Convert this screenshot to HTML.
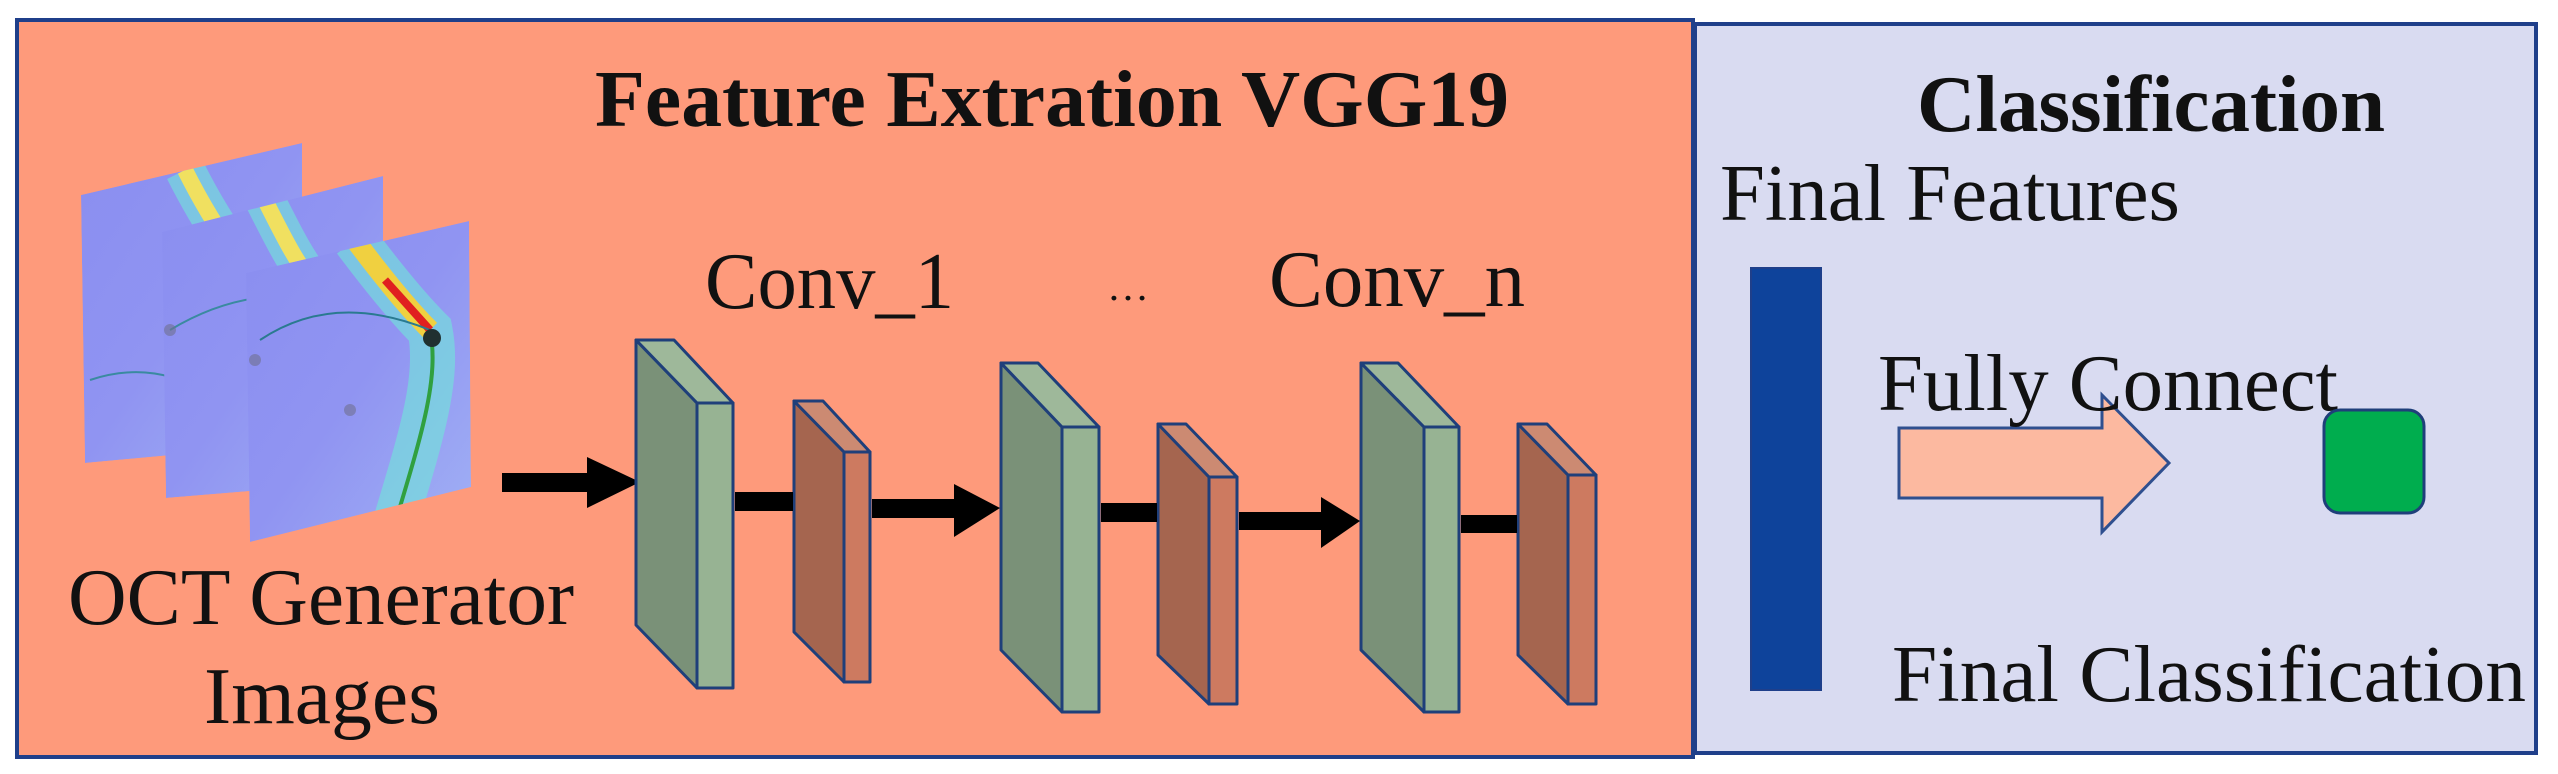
<!DOCTYPE html>
<html><head><meta charset="utf-8"><style>
html,body{margin:0;padding:0;background:#fff;}
svg{display:block;}
</style></head><body>
<svg width="2558" height="774" viewBox="0 0 2558 774" xmlns="http://www.w3.org/2000/svg" font-family="'Liberation Serif', 'Times New Roman', serif">
<defs>
<linearGradient id="fund" x1="0" y1="0" x2="1" y2="1">
<stop offset="0" stop-color="#8a8ef0"/><stop offset="0.5" stop-color="#9094f2"/><stop offset="1" stop-color="#a0b0f4"/>
</linearGradient>
<clipPath id="c1"><polygon points="81,195 302,143 302,443 85,463"/></clipPath>
<clipPath id="c2"><polygon points="162,232 383,176 383,480 166,498"/></clipPath>
<clipPath id="c3"><polygon points="246,273 469,221 471,487 250,542"/></clipPath>
</defs>
<rect x="17" y="20" width="1676" height="737" fill="#fe9a7b" stroke="#1f3f8a" stroke-width="4"/>
<rect x="1695" y="24" width="841" height="729" fill="#d9dbf1" stroke="#1f3f8a" stroke-width="4"/>

<!-- fundus images -->
<g clip-path="url(#c1)">
<polygon points="81,195 302,143 302,443 85,463" fill="url(#fund)"/>
<path d="M185,170 C205,210 225,240 240,260 C250,300 240,360 225,420" stroke="#70e8d8" stroke-width="40" fill="none" opacity="0.6"/>
<path d="M185,170 C205,210 225,240 240,260" stroke="#f0e060" stroke-width="16" fill="none"/>
<path d="M90,380 C150,360 200,380 240,420" stroke="#3a8aa0" stroke-width="2" fill="none"/>
</g>
<g clip-path="url(#c2)">
<polygon points="162,232 383,176 383,480 166,498" fill="url(#fund)"/>
<path d="M265,200 C285,240 300,270 320,290 C330,340 310,400 290,470" stroke="#70e8d8" stroke-width="40" fill="none" opacity="0.6"/>
<path d="M265,200 C285,240 300,270 320,290" stroke="#f0e060" stroke-width="16" fill="none"/>
<path d="M170,330 C220,300 270,290 320,300" stroke="#3a8aa0" stroke-width="2" fill="none"/>
</g>
<g clip-path="url(#c3)">
<polygon points="246,273 469,221 471,487 250,542" fill="url(#fund)"/>
<path d="M355,240 C385,280 410,310 430,330 C440,380 420,440 390,540" stroke="#70e8d8" stroke-width="45" fill="none" opacity="0.6"/>
<path d="M355,240 C385,280 410,310 430,330" stroke="#f0d040" stroke-width="20" fill="none"/>
<path d="M385,280 L430,330" stroke="#e02020" stroke-width="8" fill="none"/>
<path d="M430,330 C440,380 420,440 390,540" stroke="#30a040" stroke-width="4" fill="none"/>
<path d="M260,340 C320,300 380,310 430,330" stroke="#2a7a90" stroke-width="2" fill="none"/>
<circle cx="432" cy="338" r="9" fill="#203030"/>
<circle cx="350" cy="410" r="6" fill="#707090" opacity="0.6"/>
</g>
<circle cx="170" cy="330" r="6" fill="#707090" opacity="0.6"/>
<circle cx="255" cy="360" r="6" fill="#707090" opacity="0.6"/>

<!-- arrow 1 -->
<rect x="502" y="473" width="86" height="19" fill="#000"/>
<polygon points="587,457 640,482 587,508" fill="#000"/>

<g stroke="#1f3f7a" stroke-width="3" stroke-linejoin="round">
<polygon points="636,340 697,403 697,688 636,625" fill="#7a9178"/>
<polygon points="636,340 674,340 733,403 697,403" fill="#9eb89a"/>
<rect x="697" y="403" width="36" height="285" fill="#97b393"/>
<polygon points="794,401 844,452 844,682 794,632" fill="#a5654f"/>
<polygon points="794,401 823,401 870,452 844,452" fill="#cc8a72"/>
<rect x="844" y="452" width="26" height="230" fill="#cd7a60"/>
<polygon points="1001,363 1062,427 1062,712 1001,650" fill="#7a9178"/>
<polygon points="1001,363 1038,363 1099,427 1062,427" fill="#9eb89a"/>
<rect x="1062" y="427" width="37" height="285" fill="#97b393"/>
<polygon points="1158,424 1209,477 1209,704 1158,655" fill="#a5654f"/>
<polygon points="1158,424 1186,424 1237,477 1209,477" fill="#cc8a72"/>
<rect x="1209" y="477" width="28" height="227" fill="#cd7a60"/>
<polygon points="1361,363 1424,427 1424,712 1361,650" fill="#7a9178"/>
<polygon points="1361,363 1398,363 1459,427 1424,427" fill="#9eb89a"/>
<rect x="1424" y="427" width="35" height="285" fill="#97b393"/>
<polygon points="1518,424 1568,475 1568,704 1518,655" fill="#a5654f"/>
<polygon points="1518,424 1547,424 1596,475 1568,475" fill="#cc8a72"/>
<rect x="1568" y="475" width="28" height="229" fill="#cd7a60"/>
</g>

<rect x="735" y="492" width="58" height="19" fill="#000"/>
<rect x="872" y="499" width="82" height="19" fill="#000"/>
<polygon points="954,484 1000,508 954,537" fill="#000"/>
<rect x="1101" y="503" width="56" height="19" fill="#000"/>
<rect x="1239" y="512" width="82" height="18" fill="#000"/>
<polygon points="1321,497 1360,521 1321,548" fill="#000"/>
<rect x="1461" y="515" width="56" height="18" fill="#000"/>

<g fill="#111">
<text x="595" y="126" font-size="80" font-weight="bold" textLength="914" lengthAdjust="spacingAndGlyphs">Feature Extration VGG19</text>
<text x="705" y="308" font-size="80" textLength="249" lengthAdjust="spacingAndGlyphs">Conv_1</text>
<text x="1107" y="300" font-size="40" textLength="42" lengthAdjust="spacingAndGlyphs">…</text>
<text x="1269" y="306" font-size="80" textLength="256" lengthAdjust="spacingAndGlyphs">Conv_n</text>
<text x="68" y="624" font-size="80" textLength="506" lengthAdjust="spacingAndGlyphs">OCT Generator</text>
<text x="204" y="723" font-size="80" textLength="236" lengthAdjust="spacingAndGlyphs">Images</text>

<text x="1917" y="131" font-size="80" font-weight="bold" textLength="468" lengthAdjust="spacingAndGlyphs">Classification</text>
<text x="1720" y="220" font-size="80" textLength="460" lengthAdjust="spacingAndGlyphs">Final Features</text>
</g>
<rect x="1751" y="268" width="70" height="422" fill="#0e439b" stroke="#1f3f8a" stroke-width="2"/>
<polygon points="1899,428 2102,428 2102,395 2169,463 2102,532 2102,498 1899,498" fill="#fcb9a0" stroke="#2f4f8f" stroke-width="3"/>
<g fill="#111">
<text x="1878" y="410" font-size="80" textLength="460" lengthAdjust="spacingAndGlyphs">Fully Connect</text>
<text x="1892" y="701" font-size="80" textLength="634" lengthAdjust="spacingAndGlyphs">Final Classification</text>
</g>
<rect x="2324" y="410" width="100" height="103" rx="16" fill="#00ad4e" stroke="#1f3f7a" stroke-width="3"/>
</svg>
</body></html>
